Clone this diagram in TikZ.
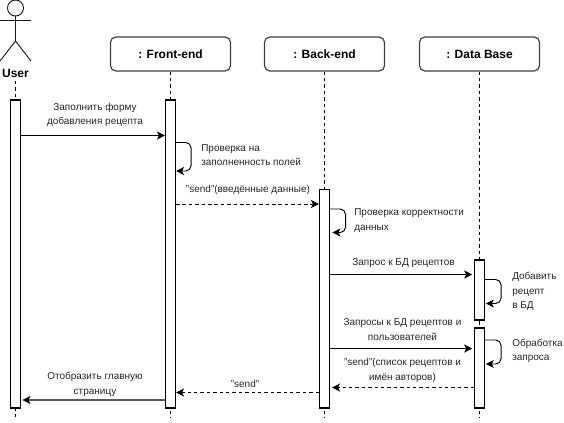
\documentclass[tikz,border=0pt]{standalone}
\usepackage{fontspec}
\setmainfont{Liberation Sans}
\usetikzlibrary{arrows.meta}
\tikzset{
  px/.style={x=0.75pt,y=-0.75pt},
  headbox/.style={draw=black!75,line width=0.9pt,rounded corners=4pt,minimum width=90pt,minimum height=25.5pt,inner sep=0pt,font=\fontsize{9pt}{10pt}\selectfont\bfseries,fill=white},
  act/.style={draw=black,line width=0.8pt,fill=white,minimum width=7.5pt,inner sep=0pt},
  life/.style={line width=0.6pt,dash pattern=on 2.6pt off 2.2pt},
  msg/.style={line width=0.7pt,-{Stealth[length=6pt,width=6pt,inset=1.5pt]}},
  rmsg/.style={msg,dash pattern=on 2.6pt off 2.2pt},
  selfmsg/.style={msg,rounded corners=4pt},
  lbl/.style={font=\fontsize{7.5pt}{10.8pt}\selectfont,text=black!85,inner sep=0pt,align=center},
  lbll/.style={lbl,align=left,anchor=west},
  actorline/.style={line width=0.7pt,draw=black!90},
}
\begin{document}
\begin{tikzpicture}[px]
\useasboundingbox (0,0) rectangle (564,422);
% heads
\node[headbox] (front) at (170.5,54) {: Front-end};
\node[headbox] (back) at (324.5,54) {: Back-end};
\node[headbox] (db) at (479.5,54) {: Data Base};
% actor
\node[circle,draw=black!90,line width=0.7pt,minimum size=12pt,inner sep=0pt] (head) at (15.5,8) {};
\coordinate (hip) at (15.5,41);
\coordinate (armL) at (0,20.5);
\coordinate (armR) at (31,20.5);
\coordinate (legL) at (0,61);
\coordinate (legR) at (31,61);
\draw[actorline] (head.south) -- (hip);
\draw[actorline] (armL) -- (armR);
\draw[actorline] (legL) -- (hip) -- (legR);
\node[font=\fontsize{9pt}{10pt}\selectfont\bfseries,inner sep=0pt] (user) at (15.5,73) {User};
% lifeline ends
\coordinate (uEnd) at (15.5,418);
\coordinate (fEnd) at (170.5,418);
\coordinate (bEnd) at (324.5,418);
\coordinate (dEnd) at (479.5,418);
\coordinate (uStart) at (15.5,81);
\draw[life] (uStart) -- (uEnd);
\draw[life] (front.south) -- (fEnd);
\draw[life] (back.south) -- (bEnd);
\draw[life] (db.south) -- (dEnd);
% activations
\node[act,minimum height=231pt] (aU) at (15.5,254) {};
\node[act,minimum height=231pt] (aF) at (170.5,254) {};
\node[act,minimum height=163.9pt] (aB) at (324.5,298.75) {};
\node[act,minimum height=45pt] (aD1) at (479.5,290) {};
\node[act,minimum height=60pt] (aD2) at (479.5,368) {};
% y levels
\foreach \n/\y in {m1/135.5,s1a/142.5,s1b/171,m2/204,s2a/209,s2b/232.5,m3/274.5,s3a/279.5,s3b/303.5,m4/348.5,s4a/340,s4b/364,m5/387.5,m6/392.5,m7/400}
  \coordinate (\n) at (0,\y);
% messages
\draw[msg] (aU.east |- m1) -- (aF.west |- m1);
\draw[selfmsg] (aF.east |- s1a) -- ++(15,0) -- ++(0,28.5) -- (aF.east |- s1b);
\draw[rmsg] (aF.east |- m2) -- (aB.west |- m2);
\draw[selfmsg,shorten >=1.8pt] (aB.east |- s2a) -- ++(15.5,0) -- ++(0,23.5) -- (aB.east |- s2b);
\draw[msg,shorten >=1.3pt] (aB.east |- m3) -- (aD1.west |- m3);
\draw[selfmsg,shorten >=0.6pt] (aD1.east |- s3a) -- ++(16,0) -- ++(0,24) -- (aD1.east |- s3b);
\draw[msg,shorten >=1.3pt] (aB.east |- m4) -- (aD2.west |- m4);
\draw[selfmsg,shorten >=0.6pt] (aD2.east |- s4a) -- ++(16,0) -- ++(0,24) -- (aD2.east |- s4b);
\draw[rmsg,shorten >=1.5pt] (aD2.west |- m5) -- (aB.east |- m5);
\draw[rmsg] (aB.west |- m6) -- (aF.east |- m6);
\draw[msg,draw=black!65,line width=1pt,shorten >=1pt,-{Stealth[length=6pt,width=6pt,inset=1.5pt,black]}] (aF.west |- m7) -- (aU.east |- m7);
% labels
\node[lbl] (t1) at (95,115) {Заполнить форму\\добавления рецепта};
\node[lbll] (t2) at (201,155) {Проверка на\\заполненность полей};
\node[lbl] (t3) at (248,190) {"send"(введённые данные)};
\node[lbll] (t4) at (354,220.5) {Проверка корректности\\данных};
\node[lbl] (t5) at (403.5,263.5) {Запрос к БД рецептов};
\node[lbll] (t6) at (512,291.5) {Добавить\\рецепт\\в БД};
\node[lbl] (t7) at (402.5,329.5) {Запросы к БД рецептов и\\пользователей};
\node[lbll] (t8) at (512,351) {Обработка\\запроса};
\node[lbl] (t9) at (402.5,370.5) {"send"(список рецептов и\\имён авторов)};
\node[lbl] (t10) at (95,384.5) {Отобразить главную\\страницу};
\node[lbl] (t11) at (245,384) {"send"};
\end{tikzpicture}
\end{document}
